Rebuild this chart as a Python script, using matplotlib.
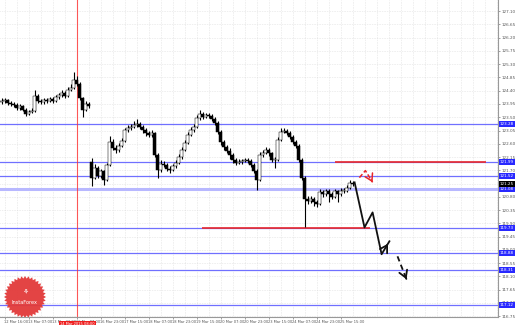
import numpy as np
import matplotlib
matplotlib.use("Agg")
import matplotlib.pyplot as plt
import matplotlib.transforms as mtransforms
from matplotlib.patches import Polygon

# hourly closes
closes = [124.06, 124.09, 123.99, 123.95, 123.92, 123.82, 123.89, 123.75, 123.62, 123.68,
          123.72, 124.23, 124.06, 124.02, 124.09, 124.06, 124.12, 124.06, 124.19, 124.26,
          124.33, 124.23, 124.43, 124.50, 124.77, 124.63, 124.16, 123.75, 123.96, 123.89,
          121.45, 121.79, 121.52, 121.66, 121.38, 121.89, 122.67, 122.47, 122.40, 122.54,
          122.71, 123.07, 123.14, 123.18, 123.25, 123.28, 123.18, 123.07, 122.97, 122.90,
          122.97, 122.23, 121.72, 121.93, 121.89, 121.76, 121.72, 121.83, 121.96, 122.16,
          122.40, 122.64, 122.91, 123.07, 123.18, 123.48, 123.62, 123.52, 123.58, 123.55,
          123.45, 123.31, 123.01, 122.67, 122.50, 122.37, 122.23, 122.06, 121.96, 121.99,
          122.03, 122.06, 122.03, 121.89, 121.69, 121.38, 122.23, 122.30, 122.40, 122.27,
          122.06, 122.06, 122.74, 123.01, 123.04, 122.97, 122.84, 122.67, 122.54, 122.06,
          121.45, 120.71, 120.67, 120.74, 120.61, 120.57, 120.95, 120.88, 120.98, 120.91,
          120.81, 120.98, 120.88, 121.01, 121.01, 121.11, 121.28, 121.25]
highs = [124.14, 124.16, 124.13, 124.06, 124.03, 123.98, 123.96, 123.93, 123.80, 123.75,
         123.80, 124.43, 124.28, 124.12, 124.16, 124.15, 124.20, 124.18, 124.27, 124.33,
         124.41, 124.38, 124.52, 124.62, 125.04, 124.90, 124.68, 124.20, 124.05, 124.02,
         122.13, 121.90, 121.85, 121.75, 121.70, 121.96, 122.88, 122.75, 122.55, 122.62,
         122.80, 123.15, 123.25, 123.28, 123.36, 123.45, 123.35, 123.24, 123.12, 123.03,
         123.06, 123.01, 122.30, 122.05, 122.02, 121.95, 121.84, 121.92, 122.05, 122.25,
         122.48, 122.72, 123.00, 123.16, 123.27, 123.56, 123.75, 123.68, 123.66, 123.65,
         123.60, 123.50, 123.36, 123.06, 122.74, 122.56, 122.45, 122.30, 122.12, 122.07,
         122.10, 122.13, 122.12, 122.08, 121.95, 121.74, 122.32, 122.40, 122.48, 122.46,
         122.32, 122.14, 122.82, 123.12, 123.14, 123.10, 123.02, 122.90, 122.73, 122.60,
         122.12, 121.50, 120.82, 120.84, 120.80, 120.68, 121.06, 121.02, 121.08, 121.05,
         120.96, 121.06, 121.04, 121.09, 121.10, 121.19, 121.36, 121.34]
lows = [123.96, 123.99, 123.93, 123.88, 123.85, 123.76, 123.76, 123.70, 123.55, 123.58,
        123.64, 123.68, 123.98, 123.94, 123.96, 123.99, 124.01, 123.99, 124.02, 124.12,
        124.20, 124.16, 124.19, 124.38, 124.45, 124.55, 124.08, 123.51, 123.70, 123.82,
        121.18, 121.40, 121.45, 121.45, 121.21, 121.33, 121.84, 122.38, 122.30, 122.33,
        122.48, 122.66, 123.00, 123.06, 123.12, 123.18, 123.10, 122.98, 122.88, 122.82,
        122.84, 122.15, 121.45, 121.65, 121.80, 121.68, 121.62, 121.66, 121.78, 121.90,
        122.10, 122.34, 122.58, 122.85, 123.00, 123.12, 123.42, 123.44, 123.46, 123.47,
        123.38, 123.24, 122.93, 122.55, 122.40, 122.28, 122.10, 121.95, 121.88, 121.90,
        121.93, 121.97, 121.95, 121.82, 121.60, 121.04, 121.33, 122.16, 122.24, 122.20,
        121.98, 121.79, 122.00, 122.68, 122.95, 122.90, 122.76, 122.60, 122.46, 121.98,
        121.38, 119.79, 120.55, 120.58, 120.50, 120.45, 120.52, 120.80, 120.82, 120.62,
        120.72, 120.75, 120.62, 120.82, 120.93, 120.95, 121.05, 121.18]
first_open = 124.02
gap_bar = 30
gap_open = 121.98

levels = [123.28, 121.99, 121.52, 121.08, 119.73, 118.88, 118.31, 117.12]
current_price = 121.25
red_levels = [(121.99, 111, 161.5), (119.73, 66.7, 122.7)]

date_labels = ["12 Mar 16:00", "13 Mar 07:00", "13 Mar 23:00", "16 Mar 07:00", "16 Mar 23:00",
               "17 Mar 15:00", "18 Mar 07:00", "18 Mar 23:00", "19 Mar 15:00", "20 Mar 07:00",
               "20 Mar 23:00", "23 Mar 15:00", "24 Mar 07:00", "24 Mar 23:00", "25 Mar 15:00"]
cursor_label = "14 Mar 2015 08:00"
cursor_bar = 25.3

# forecast arrows (bar index, price)
path_x = [117.7, 121.0, 123.7, 126.7, 129.3]
path_y = [121.29, 119.76, 120.27, 118.85, 119.29]
dash_x = [132.0, 135.0]
dash_y = [118.78, 118.00]
red_x = [119.3, 121.3, 123.7]
red_y = [121.45, 121.69, 121.29]

opens = [first_open] + closes[:-1]
opens[gap_bar] = gap_open
idx = np.arange(len(closes))

fig = plt.figure(figsize=(5.18, 3.25), dpi=100)
ax = fig.add_axes([0, 8 / 325, 498 / 518, 317 / 325])
ax.set_xlim(-0.5, 165.5)
ax.set_ylim(116.72, 127.48)

yt = 116.75 + 0.45 * np.arange(24)
ax.set_yticks(yt)
ax.set_yticklabels([f"{v:.2f}" for v in yt])
ax.yaxis.tick_right()
xt = np.arange(1, 118, 8)
ax.set_xticks(xt)
ax.set_xticklabels(date_labels, ha="left")
ax.tick_params(axis="y", labelsize=3.0, colors="#555555", length=1.5, width=0.4, pad=1)
ax.tick_params(axis="x", labelsize=2.6, colors="#555555", length=1.5, width=0.4, pad=1)
for s in ["top", "left"]:
    ax.spines[s].set_visible(False)
for s in ["right", "bottom"]:
    ax.spines[s].set_color("#999999")
    ax.spines[s].set_linewidth(0.8)

# dotted grid
for gx in np.arange(1, 166, 4):
    ax.axvline(gx, color="#cccccc", lw=0.4, ls=(0, (1, 2)), zorder=0)
for gy in yt:
    ax.axhline(gy, color="#cccccc", lw=0.4, ls=(0, (1, 2)), zorder=0)

# levels
for lv in levels:
    ax.axhline(lv, color="#7070ff", lw=0.9, zorder=1)
ax.axhline(121.08, color="#b8b8ff", lw=2.2, zorder=1)
for lv, x0, x1 in red_levels:
    ax.hlines(lv, x0, x1, color="#e8262a", lw=1.2, zorder=2)
ax.axvline(cursor_bar, color="#ff3030", lw=0.8, alpha=0.8, zorder=2)

# candles
ax.vlines(idx, lows, highs, color="black", lw=0.8, zorder=3)
body_lo = np.minimum(opens, closes)
body_h = np.maximum(np.abs(np.array(closes) - np.array(opens)), 0.02)
body_c = ["white" if c >= o else "black" for o, c in zip(opens, closes)]
ax.bar(idx, body_h, bottom=body_lo, width=0.7, color=body_c, edgecolor="black",
       linewidth=0.35, zorder=4)

# forecast arrows
ax.plot(path_x, path_y, color="#111111", lw=1.3, zorder=5)
ax.annotate("", xy=(path_x[-1], path_y[-1]), xytext=(path_x[-2] + 1.2, path_y[-2] + 0.2),
            arrowprops=dict(arrowstyle="->,head_length=0.5,head_width=0.3", color="#111111", lw=1.3))
ax.plot(dash_x, dash_y, color="#111111", lw=1.3, ls=(0, (3, 2)), zorder=5)
ax.annotate("", xy=(dash_x[-1], dash_y[-1]), xytext=(dash_x[-1] - 0.4, dash_y[-1] + 0.1),
            arrowprops=dict(arrowstyle="->,head_length=0.5,head_width=0.3", color="#111111", lw=1.3))
ax.plot(red_x, red_y, color="#e8262a", lw=1.1, ls=(0, (3, 1.5)), zorder=5)
ax.annotate("", xy=(red_x[-1], red_y[-1]), xytext=(red_x[-1] - 0.4, red_y[-1] + 0.08),
            arrowprops=dict(arrowstyle="->,head_length=0.5,head_width=0.3", color="#e8262a", lw=1.1))

# price boxes on the axis
tr = mtransforms.blended_transform_factory(ax.transAxes, ax.transData)
for lv in levels:
    ax.text(1.004, lv, f"{lv:.2f}", transform=tr, fontsize=3.0, color="white", va="center",
            ha="left", bbox=dict(boxstyle="square,pad=0.25", fc="#2828ff", ec="none"),
            clip_on=False, zorder=6)
ax.text(1.004, current_price, f"{current_price:.2f}", transform=tr, fontsize=3.0, color="white",
        va="center", ha="left", bbox=dict(boxstyle="square,pad=0.25", fc="black", ec="none"),
        clip_on=False, zorder=7)

trx = mtransforms.blended_transform_factory(ax.transData, ax.transAxes)
ax.text(cursor_bar, -0.022, cursor_label, transform=trx, fontsize=2.6, color="white",
        ha="center", va="center", bbox=dict(boxstyle="square,pad=0.3", fc="#ee2020", ec="none"),
        clip_on=False, zorder=7)

# logo starburst
cx, cy, r = 25 / 498, 1 - 297 / 317, 21
ang = np.linspace(0, 2 * np.pi, 73)
rad = np.where(np.arange(73) % 2 == 0, r, r - 2.5)
pts = np.column_stack([cx + rad * np.cos(ang) / 498, cy + rad * np.sin(ang) / 317])
ax.add_patch(Polygon(pts, closed=True, transform=ax.transAxes, fc="#e23a3a", ec="none",
                     alpha=0.95, zorder=6, clip_on=True))
ax.text(cx, cy - 6 / 317, "InstaForex", transform=ax.transAxes, fontsize=3.6, color="white",
        ha="center", va="center", zorder=7)
ax.text(cx, cy + 5 / 317, "\u2698", transform=ax.transAxes, fontsize=5, color="white",
        ha="center", va="center", zorder=7)

fig.savefig("out.png", dpi=100, facecolor="white")
